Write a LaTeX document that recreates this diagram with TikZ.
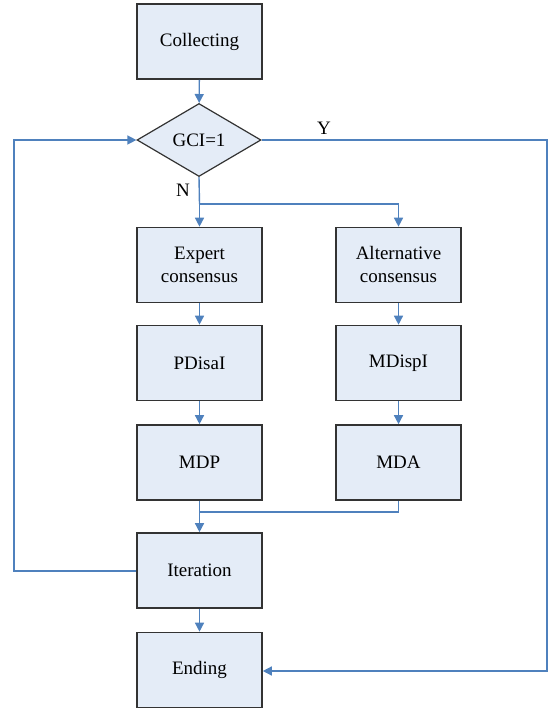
\documentclass[tikz,border=0pt]{standalone}
\usepackage{fontspec}
\setmainfont{Liberation Serif}
\usetikzlibrary{shapes.geometric,arrows.meta}
\definecolor{boxfill}{HTML}{E4ECF7}
\definecolor{arrowblue}{HTML}{4F81BD}
\definecolor{boxline}{HTML}{333333}
\begin{document}
\begin{tikzpicture}[x=1pt,y=-1pt,
  box/.style={draw=boxline,line width=1.6pt,fill=boxfill,minimum width=125pt,minimum height=75pt,inner sep=0pt,align=center,font=\rmfamily\fontsize{19}{23}\selectfont},
  decision/.style={draw=boxline,line width=1.2pt,fill=boxfill,diamond,minimum width=124pt,minimum height=73pt,inner sep=0pt,font=\rmfamily\fontsize{19}{23}\selectfont},
  conn/.style={draw=arrowblue,line width=1.4pt},
  arr/.style={conn,-{Triangle[length=9pt,width=9pt]}},
  lbl/.style={font=\rmfamily\fontsize{19}{23}\selectfont}]
\useasboundingbox (0,0) rectangle (548,711);
\node[box] (collect) at (199.5,41.5) {Collecting};
\node[decision] (gci) at (199,140) {GCI=1};
\node[box] (expert) at (199.5,265) {Expert\\consensus};
\node[box] (alt) at (398.5,265) {Alternative\\consensus};
\node[box] (pdis) at (199.5,363) {PDisaI};
\node[box] (mdisp) at (398.5,363) {MDispI};
\node[box] (mdp) at (199.5,462.5) {MDP};
\node[box] (mda) at (398.5,462.5) {MDA};
\node[box] (iter) at (199.5,570.5) {Iteration};
\node[box] (end) at (199.5,670) {Ending};
\coordinate (split) at (199.5,204);
\coordinate (merge) at (199.5,512);
\coordinate (lefttop) at (14,140);
\coordinate (leftbot) at (14,571);
\coordinate (righttop) at (547,140);
\coordinate (rightbot) at (547,671);
\draw[arr] (collect) -- (gci);
\draw[conn] (gci.south) -- (split);
\draw[arr] (split) -- (expert);
\draw[arr] (split) -| (alt);
\draw[arr] (expert) -- (pdis);
\draw[arr] (alt) -- (mdisp);
\draw[arr] (pdis) -- (mdp);
\draw[arr] (mdisp) -- (mda);
\draw[conn] (mdp) -- (merge);
\draw[conn] (mda.south) |- (merge);
\draw[arr] (merge) -- (iter);
\draw[arr] (iter) -- (end);
\draw[arr] (iter.west |- leftbot) -- (leftbot) -- (lefttop) -- (gci.west);
\draw[arr] (gci.east) -- (righttop) -- (rightbot) -- (end.east |- rightbot);
\node[lbl] (ylab) at (324,128) {Y};
\node[lbl] (nlab) at (183,190) {N};
\end{tikzpicture}
\end{document}
